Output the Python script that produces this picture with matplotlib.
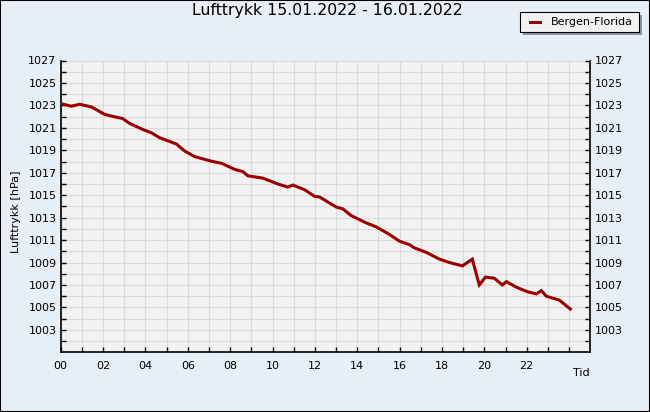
import matplotlib
matplotlib.use("Agg")
import matplotlib.pyplot as plt
from matplotlib.patches import Rectangle
from matplotlib.lines import Line2D

# Data (hours since 00:00, pressure hPa)
hours = [0.0, 0.5, 0.9, 1.45, 2.08, 2.55, 2.92, 3.25, 3.87, 4.28, 4.67, 5.46, 5.85,
         6.32, 7.17, 7.58, 8.21, 8.6, 8.83, 9.54, 10.25, 10.72, 10.96, 11.51, 11.98,
         12.22, 13.0, 13.32, 13.71, 14.42, 14.89, 15.52, 15.99, 16.46, 16.7, 17.26,
         17.88, 18.35, 18.96, 19.43, 19.76, 20.05, 20.47, 20.85, 21.04, 21.51, 22.03,
         22.45, 22.69, 22.92, 23.54, 24.06]
pressure = [1023.16, 1022.93, 1023.1, 1022.86, 1022.2, 1021.98, 1021.83, 1021.4, 1020.86,
            1020.56, 1020.12, 1019.56, 1018.94, 1018.44, 1018.0, 1017.85, 1017.3, 1017.1,
            1016.73, 1016.52, 1016.0, 1015.72, 1015.9, 1015.49, 1014.9, 1014.84, 1013.95,
            1013.78, 1013.18, 1012.53, 1012.18, 1011.5, 1010.9, 1010.6, 1010.3, 1009.9,
            1009.3, 1009.0, 1008.7, 1009.3, 1007.0, 1007.7, 1007.6, 1007.0, 1007.3, 1006.8,
            1006.4, 1006.2, 1006.5, 1006.0, 1005.65, 1004.85]
series_name = "Bergen-Florida"
title = "Lufttrykk 15.01.2022 - 16.01.2022"
ylabel = "Lufttrykk [hPa]"
xlabel = "Tid"
ytick_pos = list(range(1003, 1028, 2))

LINE_COLOR = "#990000"
W, H = 650, 412
fig = plt.figure(figsize=(W / 100, H / 100), dpi=100)
fig.patch.set_facecolor("#E6EEF6")
fig.patches.append(Rectangle((0, 0), 1, 1, transform=fig.transFigure, fill=False,
                             edgecolor="black", linewidth=1.5))

left, right, top, bottom = 60.7, 590.3, 60.5, 352.3
ax = fig.add_axes([left / W, 1 - bottom / H, (right - left) / W, (bottom - top) / H])
ax.set_facecolor("#F2F2F2")

ax.plot(hours, pressure, color=LINE_COLOR, linewidth=2.2, solid_joinstyle="miter",
        label=series_name, zorder=3)

ax.set_xlim(0, 25)
ax.set_ylim(1001, 1027)

ax.set_xticks(list(range(0, 25)))
ax.set_xticklabels([("%02d" % h) if (h % 2 == 0 and h < 24) else "" for h in range(0, 25)],
                   fontsize=8)
ax.set_yticks(ytick_pos)
ax.set_yticks(list(range(1002, 1027)), minor=True)
ax.set_yticklabels([str(v) for v in ytick_pos], fontsize=8)

ax.grid(True, which="both", color="#DADADA", linewidth=0.8)
ax.set_axisbelow(True)
ax.tick_params(axis="y", which="major", direction="in", length=3.5, width=1,
               left=True, right=True, labelleft=True, labelright=True, pad=3)
ax.tick_params(axis="y", which="minor", direction="in", length=3.5, width=1,
               left=True, right=True)
ax.tick_params(axis="x", which="major", direction="in", length=3.5, width=1, pad=6)

for s in ["left", "right", "bottom"]:
    ax.spines[s].set_linewidth(1.2)
    ax.spines[s].set_color("black")
ax.spines["top"].set_visible(False)

fig.text(327 / W, 1 - 11 / H, title, ha="center", va="center", fontsize=11.3)
fig.text(16 / W, 1 - 212 / H, ylabel, ha="center", va="center", rotation=90, fontsize=8)
fig.text(590 / W, 1 - 373 / H, xlabel, ha="right", va="center", fontsize=8)

# Legend box (drawn manually to match layout)
bx0, bx1, by0, by1 = 520, 639, 12.3, 31.7
fig.patches.append(Rectangle(((bx0 + 3) / W, 1 - (by1 + 3) / H), (bx1 - bx0) / W,
                             (by1 - by0) / H, transform=fig.transFigure,
                             facecolor="#8E969E", edgecolor="none", zorder=5))
fig.patches.append(Rectangle((bx0 / W, 1 - by1 / H), (bx1 - bx0) / W, (by1 - by0) / H,
                             transform=fig.transFigure, facecolor="#F2F2F2",
                             edgecolor="black", linewidth=0.8, zorder=6))
ymid = (by0 + by1) / 2
fig.lines.append(Line2D([530 / W, 540 / W], [1 - ymid / H, 1 - ymid / H],
                        transform=fig.transFigure, color=LINE_COLOR, linewidth=2.2,
                        zorder=7))
fig.text(550.5 / W, 1 - ymid / H, series_name, ha="left", va="center", fontsize=8,
         zorder=7)

fig.savefig("out.png", dpi=100, facecolor=fig.get_facecolor())
